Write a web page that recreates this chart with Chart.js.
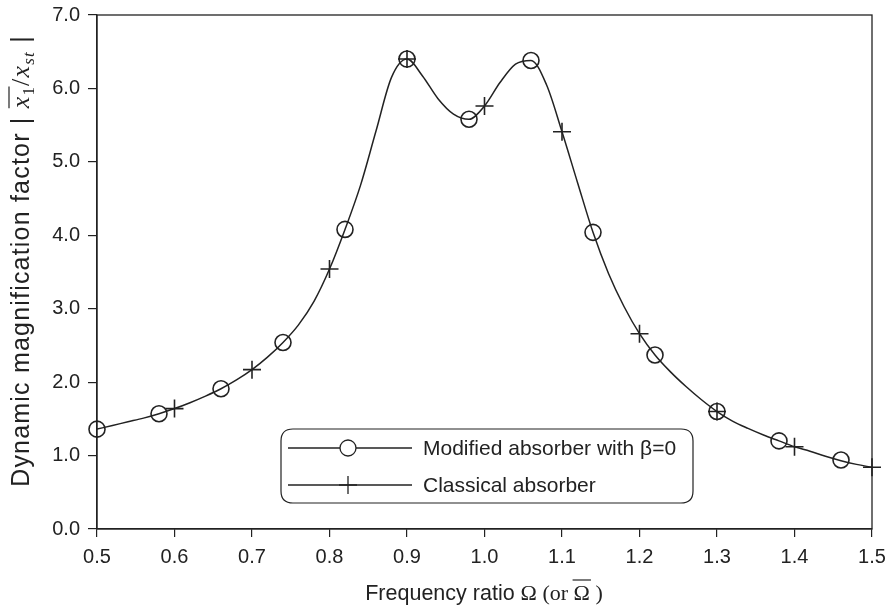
<!DOCTYPE html>
<html>
<head>
<meta charset="utf-8">
<script src="https://cdn.jsdelivr.net/npm/chart.js@4/dist/chart.umd.min.js"></script>
<style>
    html, body { margin: 0; padding: 0; background: #fff; }
    #wrap { width: 887px; height: 612px; }
</style>
</head>
<body>
<div id="wrap"><canvas id="chart" width="887" height="612"></canvas></div>
<script>
// Frequency ratio values along the response curve
const curveX = [0.50, 0.52, 0.54, 0.56, 0.58, 0.60, 0.62, 0.64, 0.66, 0.68,
    0.70, 0.72, 0.74, 0.76, 0.78, 0.80, 0.82, 0.84, 0.86, 0.88,
    0.90, 0.92, 0.94, 0.96, 0.98, 1.00, 1.02, 1.04, 1.06, 1.08,
    1.10, 1.12, 1.14, 1.16, 1.18, 1.20, 1.22, 1.24, 1.26, 1.28,
    1.30, 1.32, 1.34, 1.36, 1.38, 1.40, 1.42, 1.44, 1.46, 1.48, 1.50];
const curveY = [1.36, 1.41, 1.46, 1.51, 1.57, 1.64, 1.72, 1.81, 1.91, 2.03,
    2.17, 2.34, 2.54, 2.78, 3.10, 3.54, 4.08, 4.68, 5.42, 6.15,
    6.40, 6.17, 5.86, 5.65, 5.58, 5.76, 6.08, 6.33, 6.38, 6.05,
    5.41, 4.72, 4.04, 3.48, 3.03, 2.66, 2.37, 2.14, 1.94, 1.76,
    1.60, 1.47, 1.37, 1.28, 1.20, 1.12, 1.06, 0.99, 0.93, 0.88, 0.84];

// Modified absorber with beta=0 (circles)
const modifiedX = [0.50, 0.58, 0.66, 0.74, 0.82, 0.90, 0.98, 1.06, 1.14, 1.22, 1.30, 1.38, 1.46];
const modifiedY = [1.36, 1.57, 1.91, 2.54, 4.08, 6.40, 5.58, 6.38, 4.04, 2.37, 1.60, 1.20, 0.94];

// Classical absorber (crosses)
const classicalX = [0.6, 0.7, 0.8, 0.9, 1.0, 1.1, 1.2, 1.3, 1.4, 1.5];
const classicalY = [1.64, 2.17, 3.54, 6.40, 5.76, 5.41, 2.66, 1.60, 1.12, 0.84];

const legendLabels = ['Modified absorber with \u03b2=0', 'Classical absorber'];

const ink = '#222';
const sans = '"Liberation Sans", Arial, Helvetica, sans-serif';
const serif = '"Liberation Serif", "Times New Roman", serif';

const toPoints = (xs, ys) => xs.map((x, i) => ({ x: x, y: ys[i] }));

// keep label overhang from shrinking the plot area
const noOverhang = scale => {
    scale.paddingLeft = 0;
    scale.paddingRight = 0;
    scale.paddingTop = 0;
    scale.paddingBottom = 0;
};

// draws frame, legend and the two axis titles
const decorations = {
    id: 'decorations',
    afterDraw(chart) {
        const ctx = chart.ctx;
        const a = chart.chartArea;
        ctx.save();

        // frame
        ctx.strokeStyle = ink;
        ctx.lineWidth = 1.3;
        ctx.strokeRect(a.left, a.top, a.right - a.left, a.bottom - a.top);

        // legend box
        const bx = 281, by = 429, bw = 412, bh = 74, r = 12;
        ctx.beginPath();
        ctx.moveTo(bx + r, by);
        ctx.lineTo(bx + bw - r, by);
        ctx.quadraticCurveTo(bx + bw, by, bx + bw, by + r);
        ctx.lineTo(bx + bw, by + bh - r);
        ctx.quadraticCurveTo(bx + bw, by + bh, bx + bw - r, by + bh);
        ctx.lineTo(bx + r, by + bh);
        ctx.quadraticCurveTo(bx, by + bh, bx, by + bh - r);
        ctx.lineTo(bx, by + r);
        ctx.quadraticCurveTo(bx, by, bx + r, by);
        ctx.closePath();
        ctx.fillStyle = '#fff';
        ctx.fill();
        ctx.lineWidth = 1.2;
        ctx.stroke();

        const rows = [448, 485];
        ctx.font = '21px ' + sans;
        ctx.textBaseline = 'middle';
        ctx.textAlign = 'left';
        rows.forEach((ry, i) => {
            ctx.beginPath();
            ctx.lineWidth = 1.3;
            ctx.moveTo(288, ry);
            ctx.lineTo(412, ry);
            ctx.stroke();
            ctx.fillStyle = '#fff';
            const style = chart.data.datasets[i + 1].pointStyle;
            Chart.helpers.drawPoint(ctx, { pointStyle: style, radius: i === 0 ? 8 : 9, borderWidth: 1.6, rotation: 0 }, 348, ry);
            ctx.fillStyle = ink;
            ctx.fillText(legendLabels[i], 423, ry + 1);
        });

        // x axis title: Frequency ratio Ω (or Ω̄ )
        const xParts = [
            { t: 'Frequency ratio ', f: '21.5px ' + sans },
            { t: '\u03a9 (or ', f: '22px ' + serif },
            { t: '\u03a9', f: '22px ' + serif, bar: true },
            { t: ' )', f: '22px ' + serif }
        ];
        let total = 0;
        xParts.forEach(p => { ctx.font = p.f; p.w = ctx.measureText(p.t).width; total += p.w; });
        let cx = 484 - total / 2;
        const baseX = 600;
        ctx.textBaseline = 'alphabetic';
        xParts.forEach(p => {
            ctx.font = p.f;
            ctx.fillText(p.t, cx, baseX);
            if (p.bar) {
                ctx.beginPath();
                ctx.lineWidth = 1.2;
                ctx.moveTo(cx - 1, baseX - 20);
                ctx.lineTo(cx + p.w + 1, baseX - 20);
                ctx.stroke();
            }
            cx += p.w;
        });

        // y axis title: Dynamic magnification factor | x̄1/xst |
        ctx.translate(29, 261);
        ctx.rotate(-Math.PI / 2);
        ctx.letterSpacing = '1.2px';
        const yParts = [
            { t: 'Dynamic magnification factor | ', f: '25px ' + sans, dy: 0 },
            { t: 'x', f: 'italic 26px ' + serif, dy: 0, bar: true },
            { t: '1', f: '17px ' + serif, dy: 5 },
            { t: '/', f: '26px ' + serif, dy: 0 },
            { t: 'x', f: 'italic 26px ' + serif, dy: 0 },
            { t: 'st', f: 'italic 17px ' + serif, dy: 5 },
            { t: ' |', f: '25px ' + sans, dy: 0 }
        ];
        total = 0;
        yParts.forEach(p => { ctx.font = p.f; p.w = ctx.measureText(p.t).width; total += p.w; });
        let tx = -total / 2;
        yParts.forEach(p => {
            ctx.font = p.f;
            ctx.fillText(p.t, tx, p.dy);
            if (p.bar) {
                ctx.beginPath();
                ctx.lineWidth = 1.2;
                ctx.moveTo(tx, -20);
                ctx.lineTo(tx + p.w + 9, -20);
                ctx.stroke();
            }
            tx += p.w;
        });

        ctx.restore();
    }
};

const tickFont = { family: sans, size: 20 };

new Chart(document.getElementById('chart'), {
    type: 'line',
    data: {
        datasets: [{
            data: toPoints(curveX, curveY),
            borderColor: ink,
            borderWidth: 1.5,
            pointRadius: 0,
            cubicInterpolationMode: 'monotone',
            fill: false
        }, {
            data: toPoints(modifiedX, modifiedY),
            showLine: false,
            clip: false,
            pointStyle: 'circle',
            pointRadius: 8,
            pointBorderWidth: 1.6,
            pointBorderColor: ink,
            pointBackgroundColor: 'rgba(0,0,0,0)'
        }, {
            data: toPoints(classicalX, classicalY),
            showLine: false,
            clip: false,
            pointStyle: 'cross',
            pointRadius: 9,
            pointBorderWidth: 1.6,
            pointBorderColor: ink
        }]
    },
    options: {
        responsive: false,
        animation: false,
        layout: { padding: { top: 15, right: 15, left: 0, bottom: 0 } },
        plugins: {
            legend: { display: false },
            tooltip: { enabled: false }
        },
        scales: {
            x: {
                type: 'linear',
                min: 0.5,
                max: 1.5,
                afterFit: scale => { scale.height = 83; noOverhang(scale); },
                ticks: {
                    stepSize: 0.1,
                    color: ink,
                    font: tickFont,
                    padding: 8,
                    maxRotation: 0,
                    callback: v => v.toFixed(1)
                },
                grid: { drawOnChartArea: false, tickLength: 8, color: ink, lineWidth: 1.2 },
                border: { color: ink, width: 1.3 }
            },
            y: {
                min: 0,
                max: 7,
                afterFit: scale => { scale.width = 97; noOverhang(scale); },
                ticks: {
                    stepSize: 1,
                    color: ink,
                    font: tickFont,
                    padding: 8,
                    callback: v => v.toFixed(1)
                },
                grid: { drawOnChartArea: false, tickLength: 9, color: ink, lineWidth: 1.2 },
                border: { color: ink, width: 1.3 }
            }
        }
    },
    plugins: [decorations]
});
</script>
</body>
</html>
